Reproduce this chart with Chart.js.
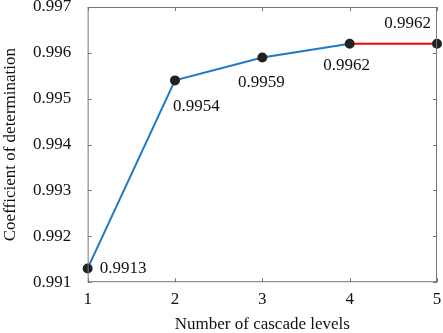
<!DOCTYPE html>
<html lang="en">
<head>
    <meta charset="UTF-8">
    <title>Coefficient of determination vs cascade levels</title>
    <script src="https://cdn.jsdelivr.net/npm/chart.js"></script>
    <style>
        body { margin: 0; background: #fff; }
        #wrap { width: 443px; height: 333px; }
    </style>
</head>
<body>
    <div id="wrap"><canvas id="r2Chart"></canvas></div>
    <script>
        // chart values
        const levels = [1, 2, 3, 4, 5];
        const r2 = [0.9913, 0.9954, 0.9959, 0.9962, 0.9962];
        const pointLabels = ['0.9913', '0.9954', '0.9959', '0.9962', '0.9962'];
        const yTicks = [0.991, 0.992, 0.993, 0.994, 0.995, 0.996, 0.997];

        const serif = '"Liberation Serif", "Times New Roman", serif';
        const axisColor = '#777';

        // label offsets relative to each point (dx, dy, align)
        const labelPos = [
            { dx: 12, dy: 0, align: 'left' },
            { dx: -2, dy: 26, align: 'left' },
            { dx: -1, dy: 25, align: 'center' },
            { dx: -3, dy: 22, align: 'center' },
            { dx: -6, dy: -20, align: 'right' }
        ];

        // box around plot + inward ticks on all sides, then value labels
        const frame = {
            id: 'frame',
            afterDatasetsDraw(chart) {
                const { ctx, chartArea: a, scales } = chart;
                ctx.save();
                ctx.strokeStyle = axisColor;
                ctx.lineWidth = 1;
                ctx.strokeRect(a.left + 0.5, a.top + 0.5, a.right - a.left - 1, a.bottom - a.top - 1);
                ctx.beginPath();
                levels.forEach(v => {
                    const x = Math.round(scales.x.getPixelForValue(v)) + 0.5;
                    ctx.moveTo(x, a.bottom); ctx.lineTo(x, a.bottom - 4);
                    ctx.moveTo(x, a.top); ctx.lineTo(x, a.top + 4);
                });
                yTicks.forEach(v => {
                    const y = Math.round(scales.y.getPixelForValue(v)) + 0.5;
                    ctx.moveTo(a.left, y); ctx.lineTo(a.left + 4, y);
                    ctx.moveTo(a.right, y); ctx.lineTo(a.right - 4, y);
                });
                ctx.stroke();
                ctx.restore();
            },
            afterDraw(chart) {
                const { ctx, scales } = chart;
                ctx.save();
                ctx.fillStyle = '#111';
                ctx.font = '17px ' + serif;
                ctx.textBaseline = 'middle';
                r2.forEach((v, i) => {
                    const x = scales.x.getPixelForValue(levels[i]);
                    const y = scales.y.getPixelForValue(v);
                    ctx.textAlign = labelPos[i].align;
                    ctx.fillText(pointLabels[i], x + labelPos[i].dx, y + labelPos[i].dy);
                });
                ctx.restore();
            }
        };

        const ctx = document.getElementById('r2Chart').getContext('2d');
        new Chart(ctx, {
            type: 'line',
            data: {
                datasets: [{
                    data: levels.map((x, i) => ({ x: x, y: r2[i] })),
                    borderColor: '#1f78c8',
                    borderWidth: 2,
                    segment: {
                        borderColor: c => c.p0DataIndex >= 3 ? '#ff0000' : '#1f78c8'
                    },
                    pointRadius: 4,
                    pointBackgroundColor: '#222',
                    pointBorderColor: '#222',
                    tension: 0,
                    clip: false
                }]
            },
            plugins: [frame],
            options: {
                responsive: true,
                maintainAspectRatio: false,
                animation: false,
                layout: { padding: { top: 7, right: 0, left: 0, bottom: -2 } },
                plugins: {
                    legend: { display: false },
                    tooltip: { enabled: false }
                },
                scales: {
                    x: {
                        type: 'linear',
                        min: 1,
                        max: 5,
                        grid: { display: false },
                        border: { display: false },
                        afterBuildTicks: s => { s.ticks = levels.map(v => ({ value: v })); },
                        ticks: {
                            color: '#111',
                            font: { family: serif, size: 17 },
                            padding: -1,
                            maxRotation: 0
                        },
                        title: {
                            display: true,
                            text: 'Number of cascade levels',
                            color: '#111',
                            font: { family: serif, size: 17 },
                            padding: { top: 6, bottom: 0 }
                        }
                    },
                    y: {
                        min: 0.991,
                        max: 0.997,
                        grid: { display: false },
                        border: { display: false },
                        afterBuildTicks: s => { s.ticks = yTicks.map(v => ({ value: v })); },
                        // let the top label sit on the frame edge like the original
                        afterFit: s => { s.paddingTop = 0; },
                        ticks: {
                            color: '#111',
                            font: { family: serif, size: 17 },
                            padding: 8.5,
                            callback: v => v.toFixed(3)
                        },
                        title: {
                            display: true,
                            text: 'Coefficient of determination',
                            color: '#111',
                            font: { family: serif, size: 17 },
                            padding: { top: 0, bottom: 4 }
                        }
                    }
                }
            }
        });
    </script>
</body>
</html>
